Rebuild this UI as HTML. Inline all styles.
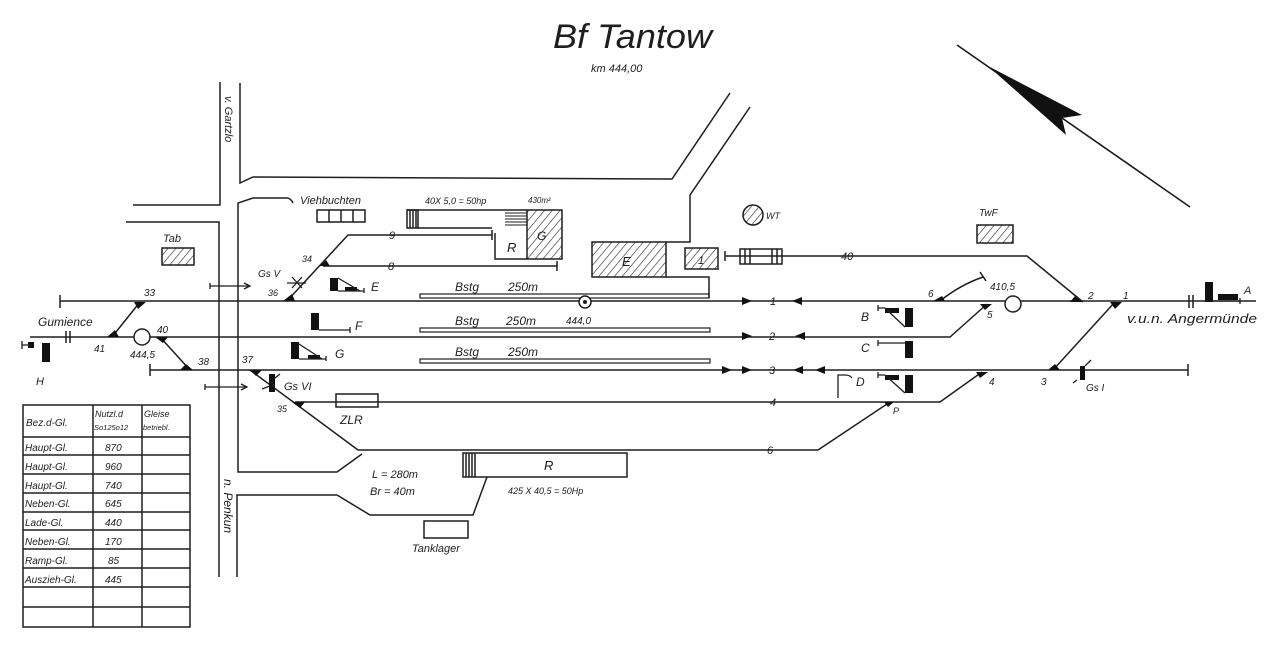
<!DOCTYPE html>
<html><head><meta charset="utf-8"><style>
html,body{margin:0;padding:0;background:#fff;}
svg{display:block;}
text{font-family:"Liberation Sans",sans-serif;font-style:italic;fill:#1e1e1e;}
</style></head><body>
<svg width="1280" height="649" viewBox="0 0 1280 649" xmlns="http://www.w3.org/2000/svg">
<defs>
<pattern id="h" patternUnits="userSpaceOnUse" width="6" height="6" patternTransform="rotate(40)"><line x1="0" y1="0" x2="0" y2="6" stroke="#333" stroke-width="1.3"/></pattern>
</defs>

<!-- Title -->
<text x="553" y="48" font-size="34" textLength="159" lengthAdjust="spacingAndGlyphs" style="font-weight:normal">Bf Tantow</text>
<text x="591" y="72" font-size="11">km 444,00</text>

<!-- North arrow -->
<line x1="957" y1="45" x2="1190" y2="207" stroke="#1a1a1a" stroke-width="1.6"/>
<polygon points="988,66 1082,115 1062,118 1066,135" fill="#111"/>

<g fill="none" stroke="#1e1e1e" stroke-width="1.5">
<!-- Roads -->
<path d="M220,82 V205 H133"/>
<path d="M126,222 H219 V577"/>
<path d="M240,83 V183 L253,177 L672,179 L730,93"/>
<path d="M750,107 L690,195 V242 H666"/>
<path d="M293,203 Q290,197 285,198 H253 L238,203 V472 H337 L362,454"/>
<path d="M237,577 V495 H337 L370,515 H473 L487,477"/>

<!-- Tracks -->
<path d="M60,301 H1256"/>
<path d="M60,295 V308"/>
<path d="M30,337 H950 L987,304"/>
<path d="M150,370 H1188"/>
<path d="M150,364 V376 M1188,364 V376"/>
<path d="M295,402 H940 L982,372"/>
<path d="M250,370 L358,450 H818 L890,402"/>
<path d="M323,266 H557 M557,261 V271"/>
<path d="M287,301 L348,235 H492 M492,230 V240"/>
<path d="M725,256 H1027 L1083,302 M725,251 V261"/>
<path d="M1115,302 L1053,370"/>
<path d="M140,302 L112,337"/>
<path d="M160,337 L190,370"/>
<path d="M940,301 Q960,285 983,277 M980,272 L986,281"/>

<!-- Double bars -->
<path d="M66,331 V343 M70,331 V343"/>
<path d="M1189,295 V308 M1193,295 V308"/>

<!-- Track 40 box -->
<rect x="740" y="249" width="42" height="15"/>
<path d="M745,249 V264 M750,249 V264 M772,249 V264 M777,249 V264"/>

<!-- Platforms -->
<rect x="420" y="294" width="289" height="4" stroke-width="1.2"/>
<path d="M666,277 H709 V298"/>
<rect x="420" y="328" width="290" height="4" stroke-width="1.2"/>
<rect x="420" y="359" width="290" height="4" stroke-width="1.2"/>

<!-- Goods shed / ramp -->
<path d="M407,210 H527 M418,228 H492 M495,233 V259 H527"/>
<rect x="407" y="210" width="11" height="18"/>
<path d="M410,210 V228 M413,210 V228 M416,210 V228"/>
<path d="M505,213 H527 M505,216 H527 M505,219 H527 M505,222 H527 M505,225 H527" stroke-width="1"/>
<!-- Viehbuchten -->
<rect x="317" y="210" width="48" height="12"/>
<path d="M329,210 V222 M341,210 V222 M353,210 V222"/>

<!-- Tanklager, ZLR -->
<rect x="424" y="521" width="44" height="17"/>
<rect x="336" y="394" width="42" height="13"/>
<!-- R bottom -->
<rect x="463" y="453" width="164" height="24"/>
<path d="M466,453 V477 M469,453 V477 M472,453 V477 M475,453 V477"/>

<!-- Table -->
<rect x="23" y="405" width="167" height="222"/>
<path d="M93,405 V627 M142,405 V627"/>
<path d="M23,437 H190 M23,455 H190 M23,474 H190 M23,493 H190 M23,512 H190 M23,530 H190 M23,549 H190 M23,568 H190 M23,587 H190 M23,607 H190"/>
</g>

<!-- Hatched buildings -->
<g stroke="#1e1e1e" stroke-width="1.5">
<rect x="527" y="210" width="35" height="49" fill="url(#h)"/>
<rect x="592" y="242" width="74" height="35" fill="url(#h)"/>
<rect x="685" y="248" width="33" height="21" fill="url(#h)"/>
<rect x="162" y="248" width="32" height="17" fill="url(#h)"/>
<rect x="977" y="225" width="36" height="18" fill="url(#h)"/>
<circle cx="753" cy="215" r="10" fill="url(#h)"/>
</g>

<!-- Circles on tracks -->
<g stroke="#1e1e1e" stroke-width="1.5" fill="#fff">
<circle cx="142" cy="337" r="8"/>
<circle cx="1013" cy="304" r="8"/>
<circle cx="585" cy="302" r="6"/>
</g>
<circle cx="585" cy="302" r="2" fill="#1e1e1e"/>

<!-- Switch triangles -->
<g fill="#111">
<polygon points="134,302 146,302 138,309"/>
<polygon points="107,337 119,337 115,330"/>
<polygon points="155,337 168,337 163,343"/>
<polygon points="180,370 193,370 186,364"/>
<polygon points="283,301 295,301 292,294"/>
<polygon points="320,266 330,266 326,260"/>
<polygon points="250,370 262,370 256,376"/>
<polygon points="292,402 305,402 300,408"/>
<polygon points="1070,302 1082,302 1075,296"/>
<polygon points="1110,302 1122,302 1115,309"/>
<polygon points="933,301 945,301 942,296"/>
<polygon points="980,304 992,304 985,310"/>
<polygon points="1048,370 1060,370 1055,364"/>
<polygon points="976,372 988,372 980,378"/>
<polygon points="884,402 894,402 888,407"/>
<!-- track arrows -->
<polygon points="742,297 752,301 742,305"/>
<polygon points="802,297 792,301 802,305"/>
<polygon points="742,332 752,336 742,340"/>
<polygon points="805,332 795,336 805,340"/>
<polygon points="722,366 732,370 722,374"/>
<polygon points="742,366 752,370 742,374"/>
<polygon points="803,366 793,370 803,374"/>
<polygon points="825,366 815,370 825,374"/>
</g>

<!-- Signals -->
<g fill="#111" stroke="none">
<rect x="330" y="278" width="8" height="13"/>
<rect x="345" y="287" width="12" height="4"/>
<rect x="311" y="313" width="8" height="17"/>
<rect x="291" y="342" width="8" height="17"/>
<rect x="308" y="355" width="12" height="4"/>
<rect x="885" y="308" width="14" height="5"/>
<rect x="905" y="308" width="8" height="19"/>
<rect x="905" y="341" width="8" height="17"/>
<rect x="885" y="375" width="14" height="5"/>
<rect x="905" y="375" width="8" height="18"/>
<rect x="1205" y="282" width="8" height="20"/>
<rect x="1218" y="294" width="20" height="6"/>
<rect x="42" y="343" width="8" height="19"/>
<rect x="28" y="342" width="6" height="6"/>
<rect x="1080" y="366" width="5" height="14"/>
<rect x="269" y="374" width="6" height="18"/>
</g>
<g fill="none" stroke="#1e1e1e" stroke-width="1.3">
<path d="M338,278 L360,291 H338 M360,291 H364 M364,288 V293"/>
<path d="M319,330 H350 M350,327 V333"/>
<path d="M299,344 L322,359 H299 M322,359 H326 M326,356 V361"/>
<path d="M878,305 V311 M878,308 H885 M885,308 L905,327"/>
<path d="M878,340 V346 M878,343 H905"/>
<path d="M878,372 V378 M878,375 H885 M885,375 L905,393"/>
<path d="M838,398 V375 H845 Q850,375 852,378"/>
<path d="M1213,301 H1240 M1240,298 V304"/>
<path d="M22,345 H30 M22,341 V349"/>
<path d="M1077,380 L1073,383 M1085,366 L1091,360"/>
<path d="M262,389 L270,386 M275,378 L280,374"/>
<!-- Gs V cross -->
<path d="M292,277 L302,288 M302,277 L292,288 M287,283 H306"/>
<!-- crossing arrows -->
<path d="M210,286 H250 M244,283 L250,286 L244,289 M210,283 V289"/>
<path d="M205,387 H247 M241,384 L247,387 L241,390 M205,384 V390"/>
</g>

<!-- Labels -->
<g font-size="11">
<text x="300" y="204">Viehbuchten</text>
<text x="425" y="204" font-size="9">40X 5,0 = 50hp</text>
<text x="528" y="203" font-size="8">430m²</text>
<text x="507" y="252" font-size="13">R</text>
<text x="537" y="240" font-size="12" fill="#666">G</text>
<text x="622" y="266" font-size="13" fill="#444">E</text>
<text x="698" y="264" font-size="11" fill="#444">1</text>
<text x="163" y="242">Tab</text>
<text x="766" y="219" font-size="9">WT</text>
<text x="979" y="216" font-size="10">TwF</text>
<text x="841" y="260">40</text>
<text x="389" y="239">9</text>
<text x="388" y="270">8</text>
<text x="258" y="277" font-size="10">Gs V</text>
<text x="302" y="262" font-size="9">34</text>
<text x="268" y="296" font-size="9">36</text>
<text x="371" y="291" font-size="12">E</text>
<text x="355" y="330" font-size="12">F</text>
<text x="335" y="358" font-size="12">G</text>
<text x="144" y="296" font-size="10">33</text>
<text x="38" y="326" font-size="12">Gumience</text>
<text x="94" y="352" font-size="10">41</text>
<text x="130" y="358" font-size="10">444,5</text>
<text x="157" y="333" font-size="10">40</text>
<text x="198" y="365" font-size="10">38</text>
<text x="242" y="363" font-size="10">37</text>
<text x="36" y="385" font-size="11">H</text>
<text x="277" y="412" font-size="9">35</text>
<text x="284" y="390" font-size="11">Gs VI</text>
<text x="340" y="424" font-size="12">ZLR</text>
<text x="455" y="291" font-size="12">Bstg</text>
<text x="508" y="291" font-size="12">250m</text>
<text x="455" y="325" font-size="12">Bstg</text>
<text x="506" y="325" font-size="12">250m</text>
<text x="455" y="356" font-size="12">Bstg</text>
<text x="508" y="356" font-size="12">250m</text>
<text x="566" y="324" font-size="10">444,0</text>
<text x="770" y="305" font-size="11">1</text>
<text x="769" y="340" font-size="11">2</text>
<text x="769" y="374" font-size="11">3</text>
<text x="770" y="406" font-size="11">4</text>
<text x="767" y="454" font-size="11">6</text>
<text x="372" y="478" font-size="11">L  =  280m</text>
<text x="370" y="495" font-size="11">Br =   40m</text>
<text x="544" y="470" font-size="13">R</text>
<text x="508" y="494" font-size="9">425 X 40,5 = 50Hp</text>
<text x="412" y="552" font-size="11">Tanklager</text>
<text x="928" y="297" font-size="10">6</text>
<text x="990" y="290" font-size="10">410,5</text>
<text x="1088" y="299" font-size="10">2</text>
<text x="1123" y="299" font-size="10">1</text>
<text x="987" y="318" font-size="10">5</text>
<text x="861" y="321" font-size="12">B</text>
<text x="861" y="352" font-size="12">C</text>
<text x="856" y="386" font-size="12">D</text>
<text x="989" y="385" font-size="10">4</text>
<text x="1041" y="385" font-size="10">3</text>
<text x="1086" y="391" font-size="10">Gs I</text>
<text x="893" y="414" font-size="9">P</text>
<text x="1244" y="294" font-size="11">A</text>
<text x="1127" y="323" font-size="13" textLength="130" lengthAdjust="spacingAndGlyphs">v.u.n. Angermünde</text>
<text transform="translate(225,96) rotate(90)" font-size="11">v. Gartzlo</text>
<text transform="translate(224,479) rotate(90)" font-size="12">n. Penkun</text>
</g>

<!-- Table text -->
<g font-size="10">
<text x="26" y="426">Bez.d-Gl.</text>
<text x="95" y="417" font-size="9">Nutzl.d</text>
<text x="144" y="417" font-size="9">Gleise</text>
<text x="94" y="430" font-size="7.5">So125o12</text>
<text x="143" y="430" font-size="7.5">betriebl.</text>
<text x="25" y="451">Haupt-Gl.</text><text x="105" y="451">870</text>
<text x="25" y="470">Haupt-Gl.</text><text x="105" y="470">960</text>
<text x="25" y="489">Haupt-Gl.</text><text x="105" y="489">740</text>
<text x="25" y="507">Neben-Gl.</text><text x="105" y="507">645</text>
<text x="25" y="526">Lade-Gl.</text><text x="105" y="526">440</text>
<text x="25" y="545">Neben-Gl.</text><text x="105" y="545">170</text>
<text x="25" y="564">Ramp-Gl.</text><text x="108" y="564">85</text>
<text x="25" y="583">Auszieh-Gl.</text><text x="105" y="583">445</text>
</g>
</svg>
</body></html>
